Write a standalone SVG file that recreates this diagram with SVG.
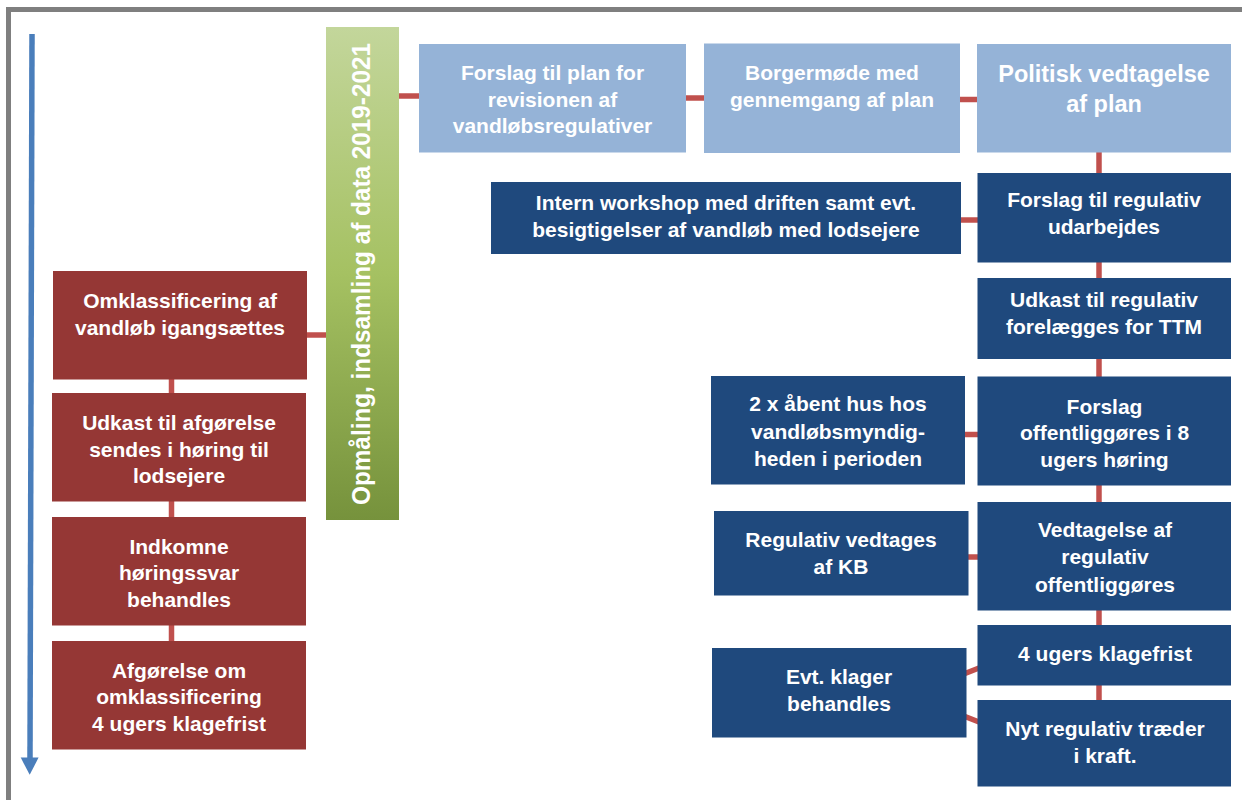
<svg xmlns="http://www.w3.org/2000/svg" width="1242" height="800" viewBox="0 0 1242 800">
<defs>
<linearGradient id="gGreen" x1="0" y1="0" x2="0" y2="1">
<stop offset="0" stop-color="#c3d69b"/>
<stop offset="0.5" stop-color="#a5c162"/>
<stop offset="1" stop-color="#76923c"/>
</linearGradient>
<style>
.t{font-family:"Liberation Sans",Arial,sans-serif;font-weight:bold;font-size:21px;fill:#ffffff;text-anchor:middle}
.big{font-size:23.5px}
.vert{font-size:25px}
.red{fill:#953735}
.lb{fill:#95b3d7}
.db{fill:#1f497d}
.c{stroke:#c0504d;stroke-width:5.5;fill:none}
</style>
</defs>
<rect width="1242" height="800" fill="#ffffff"/>
<rect x="8.5" y="9.5" width="1250" height="820" fill="none" stroke="#7f7f7f" stroke-width="5"/>
<g id="timeline">
<line x1="32" y1="34" x2="30" y2="758" stroke="#4a7ebb" stroke-width="5.5"/>
<polygon points="20.7,757.6 38.6,757.6 29.7,774.8" fill="#4a7ebb"/>
</g>
<g id="connectors">
<line class="c" x1="307" y1="335" x2="326" y2="335"/>
<line class="c" x1="171.5" y1="379" x2="171.5" y2="394"/>
<line class="c" x1="171.5" y1="501" x2="171.5" y2="518"/>
<line class="c" x1="171.5" y1="625" x2="171.5" y2="642"/>
<line class="c" x1="399" y1="96" x2="419" y2="96"/>
<line class="c" x1="686" y1="98" x2="704" y2="98"/>
<line class="c" x1="960" y1="99.5" x2="977" y2="99.5"/>
<line class="c" x1="1099" y1="152" x2="1099" y2="174"/>
<line class="c" x1="961" y1="220" x2="978" y2="220"/>
<line class="c" x1="1099" y1="262" x2="1099" y2="279"/>
<line class="c" x1="1099" y1="358" x2="1099" y2="378"/>
<line class="c" x1="964" y1="434.5" x2="978" y2="434.5"/>
<line class="c" x1="1099" y1="485" x2="1099" y2="503"/>
<line class="c" x1="968" y1="557" x2="978" y2="557"/>
<line class="c" x1="1099" y1="610" x2="1099" y2="626"/>
<line class="c" x1="1099" y1="685" x2="1099" y2="701"/>
<line class="c" x1="965" y1="673.5" x2="979" y2="668"/>
<line class="c" x1="965" y1="716.5" x2="979" y2="722"/>
</g>
<g id="opmaaling">
<rect x="326" y="27" width="73" height="493" fill="url(#gGreen)"/>
<text class="t vert" transform="translate(370 274) rotate(-90)" textLength="462" lengthAdjust="spacingAndGlyphs">Opmåling, indsamling af data 2019-2021</text>
</g>
<g id="omklassificering">
<rect class="red" x="53" y="271" width="254" height="108.5"/>
<text class="t" x="180" y="308">Omklassificering af</text>
<text class="t" x="180" y="335">vandløb igangsættes</text>
</g>
<g id="udkast-afgoerelse">
<rect class="red" x="52" y="393" width="254" height="108.5"/>
<text class="t" x="179" y="430">Udkast til afgørelse</text>
<text class="t" x="179" y="456.5">sendes i høring til</text>
<text class="t" x="179" y="483">lodsejere</text>
</g>
<g id="indkomne">
<rect class="red" x="52" y="517" width="254" height="108.5"/>
<text class="t" x="179" y="553.5">Indkomne</text>
<text class="t" x="179" y="580">høringssvar</text>
<text class="t" x="179" y="606.5">behandles</text>
</g>
<g id="afgoerelse">
<rect class="red" x="52" y="641" width="254" height="108.5"/>
<text class="t" x="179" y="677.5">Afgørelse om</text>
<text class="t" x="179" y="704">omklassificering</text>
<text class="t" x="179" y="730.5">4 ugers klagefrist</text>
</g>
<g id="forslag-plan">
<rect class="lb" x="419" y="44" width="267" height="108.5"/>
<text class="t" x="552.5" y="80">Forslag til plan for</text>
<text class="t" x="552.5" y="106.5">revisionen af</text>
<text class="t" x="552.5" y="133">vandløbsregulativer</text>
</g>
<g id="borgermoede">
<rect class="lb" x="704" y="43.5" width="256" height="109.5"/>
<text class="t" x="832" y="80">Borgermøde med</text>
<text class="t" x="832" y="106.5">gennemgang af plan</text>
</g>
<g id="politisk">
<rect class="lb" x="977" y="44" width="254" height="108.5"/>
<text class="t big" x="1104" y="82">Politisk vedtagelse</text>
<text class="t big" x="1104" y="112">af plan</text>
</g>
<g id="intern-workshop">
<rect class="db" x="491" y="182" width="470" height="72"/>
<text class="t" x="726" y="210">Intern workshop med driften samt evt.</text>
<text class="t" x="726" y="236.5">besigtigelser af vandløb med lodsejere</text>
</g>
<g id="forslag-regulativ">
<rect class="db" x="977.5" y="173" width="253.5" height="89.5"/>
<text class="t" x="1104" y="207">Forslag til regulativ</text>
<text class="t" x="1104" y="233.5">udarbejdes</text>
</g>
<g id="udkast-regulativ">
<rect class="db" x="977.5" y="278" width="253.5" height="81"/>
<text class="t" x="1104" y="307">Udkast til regulativ</text>
<text class="t" x="1104" y="333.5">forelægges for TTM</text>
</g>
<g id="aabent-hus">
<rect class="db" x="711" y="376" width="254" height="108.5"/>
<text class="t" x="838" y="411">2 x åbent hus hos</text>
<text class="t" x="838" y="439">vandløbsmyndig-</text>
<text class="t" x="838" y="466">heden i perioden</text>
</g>
<g id="forslag-offentliggoeres">
<rect class="db" x="977.5" y="376.5" width="253.5" height="109"/>
<text class="t" x="1104.5" y="413.5">Forslag</text>
<text class="t" x="1104.5" y="440">offentliggøres i 8</text>
<text class="t" x="1104.5" y="466.5">ugers høring</text>
</g>
<g id="regulativ-kb">
<rect class="db" x="714" y="511" width="254.5" height="84.5"/>
<text class="t" x="841" y="547">Regulativ vedtages</text>
<text class="t" x="841" y="573.5">af KB</text>
</g>
<g id="vedtagelse">
<rect class="db" x="977.5" y="502" width="253.5" height="108.5"/>
<text class="t" x="1105" y="537">Vedtagelse af</text>
<text class="t" x="1105" y="564">regulativ</text>
<text class="t" x="1105" y="591.5">offentliggøres</text>
</g>
<g id="klagefrist">
<rect class="db" x="977.5" y="625" width="253.5" height="60.5"/>
<text class="t" x="1105" y="660.5">4 ugers klagefrist</text>
</g>
<g id="evt-klager">
<rect class="db" x="712" y="648" width="254.5" height="89.5"/>
<text class="t" x="839" y="683.5">Evt. klager</text>
<text class="t" x="839" y="710.5">behandles</text>
</g>
<g id="nyt-regulativ">
<rect class="db" x="977.5" y="700" width="253.5" height="86.5"/>
<text class="t" x="1105" y="736">Nyt regulativ træder</text>
<text class="t" x="1105" y="762.5">i kraft.</text>
</g>
</svg>
